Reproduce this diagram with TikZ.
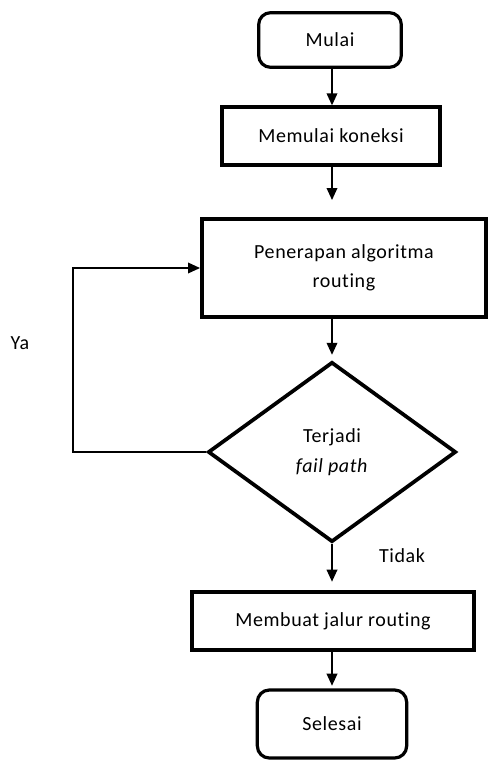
\documentclass[tikz,border=0pt]{standalone}
\usepackage{fontspec}
\setmainfont{Carlito}[Ligatures=NoCommon,LetterSpace=3]
\usetikzlibrary{shapes.geometric,arrows.meta}

\begin{document}
\begin{tikzpicture}[x=0.75pt,y=-0.75pt,
  font=\fontsize{15}{22}\selectfont,
  terminal/.style={draw,line width=2.4pt,rounded corners=9pt,inner sep=0pt},
  process/.style={draw,line width=3pt,inner sep=0pt,align=center},
  decision/.style={draw,diamond,line width=2.8pt,inner sep=0pt,align=center},
  arr/.style={line width=1.1pt,-{Triangle[width=8pt,length=9pt]}}]
\useasboundingbox (0,0) rectangle (488,760);

\node[terminal,minimum width=107pt,minimum height=41pt] (mulai) at (330,40) {Mulai};
\node[process,minimum width=164pt,minimum height=43pt] (koneksi) at (331,136) {Memulai koneksi};
\node[process,minimum width=213pt,minimum height=73pt] (terap) at (344,268) {Penerapan algoritma\\routing};
\node[decision,minimum width=186pt,minimum height=135pt] (fail) at (332,452) {Terjadi\\\textit{fail path}};
\node[process,minimum width=212pt,minimum height=44pt] (jalur) at (333,621) {Membuat jalur routing};
\node[terminal,minimum width=112pt,minimum height=51pt] (selesai) at (332,724) {Selesai};

\coordinate (loop) at (73,452);

\node (ya) at (20,343) {Ya};
\node (tidak) at (402,556) {Tidak};

\draw[arr] (mulai.south -| fail.north) -- (koneksi.north -| fail.north);
\draw[arr,shorten >=13pt] (koneksi.south -| fail.north) -- (terap.north -| fail.north);
\draw[arr,shorten >=4pt] (terap.south -| fail.north) -- (fail.north);
\draw[arr,shorten >=6pt] (fail.south) -- (jalur.north -| fail.south);
\draw[arr,shorten >=2pt] (jalur.south -| fail.south) -- (selesai.north -| fail.south);
\draw[arr] (fail.west) -- (loop) |- (terap.west);

\end{tikzpicture}
\end{document}
